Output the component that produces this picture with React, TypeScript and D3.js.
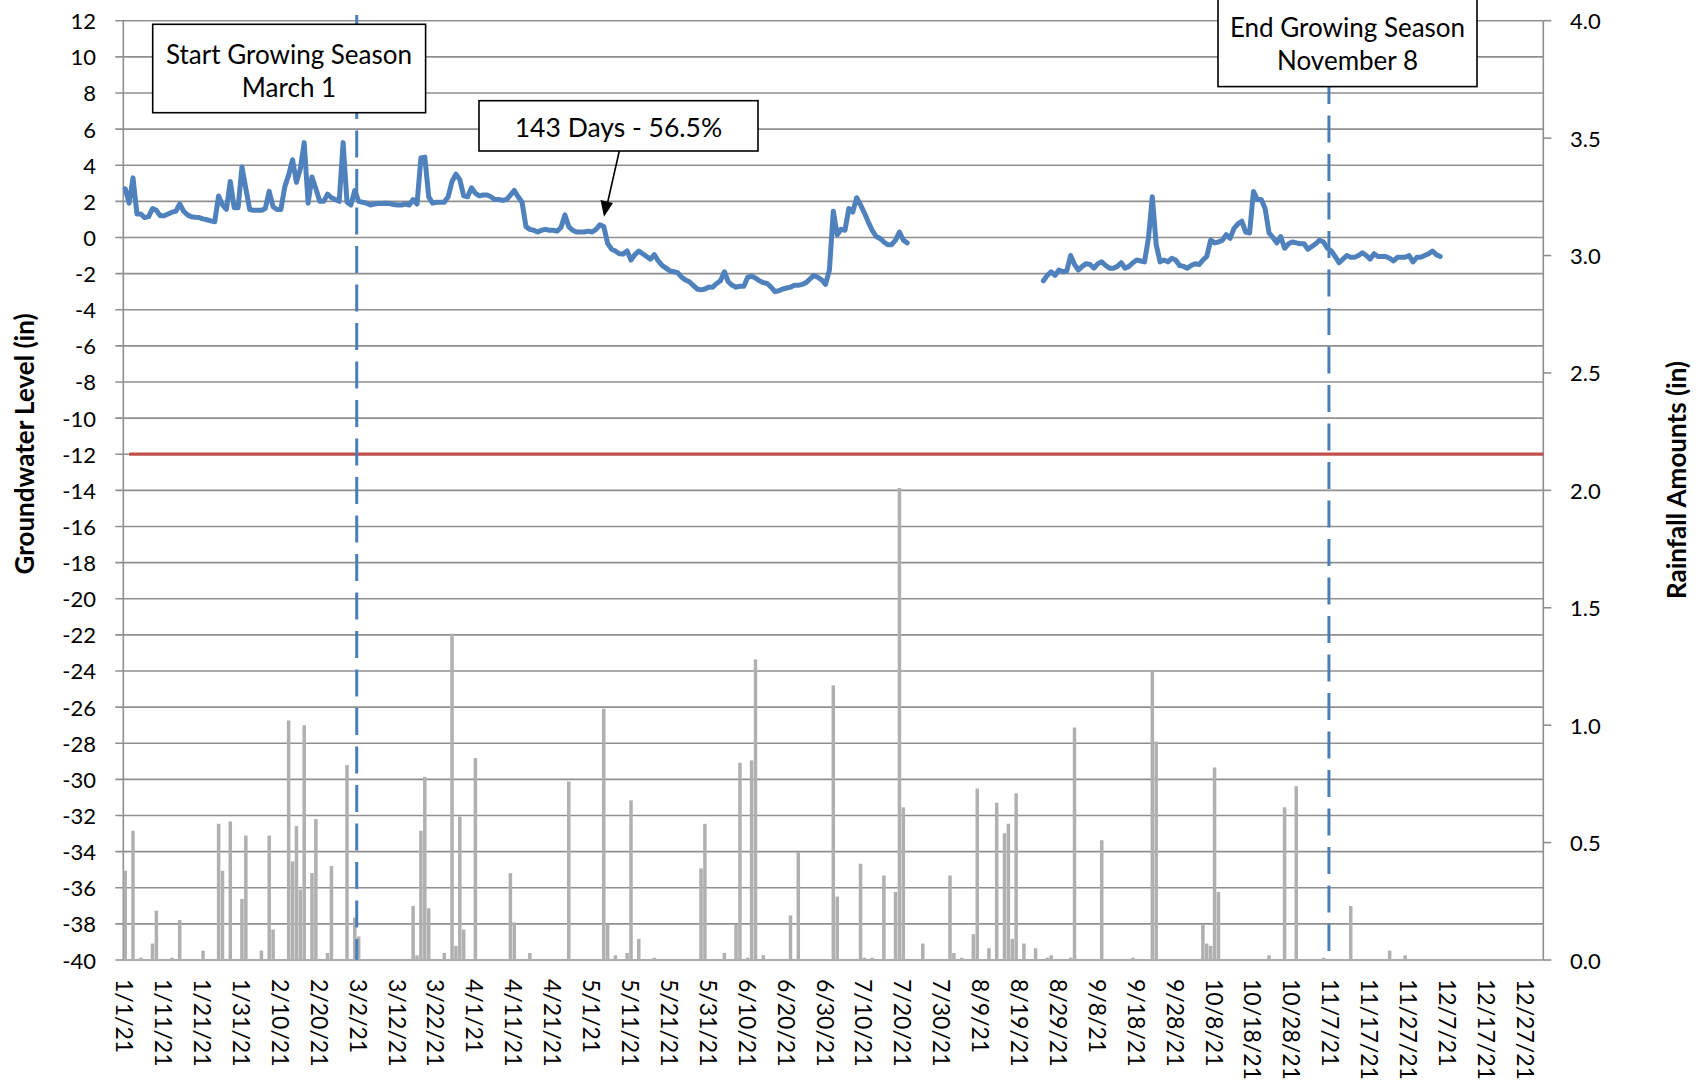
import React, { useEffect } from "react";
import * as d3 from "d3";

// ---------------- DATA ----------------
const yearStart = new Date(2021, 0, 1);
const yearEnd = new Date(2022, 0, 1);
const days: Date[] = d3.timeDay.range(yearStart, yearEnd); // 365 daily categories

// Groundwater level (in), index = day of year (0 = 1/1/21); null = no reading
const groundwaterA: number[] = [
  2.7, 1.9, 3.3, 1.3, 1.3, 1.1, 1.15, 1.6, 1.5, 1.2,
  1.2, 1.3, 1.4, 1.45, 1.85, 1.45, 1.25, 1.15, 1.12, 1.1,
  1.03, 0.98, 0.92, 0.87, 2.3, 1.8, 1.55, 3.1, 1.65, 1.65,
  3.9, 2.7, 1.55, 1.5, 1.5, 1.5, 1.6, 2.55, 1.7, 1.55,
  1.55, 2.8, 3.45, 4.3, 3.05, 3.8, 5.25, 1.9, 3.35, 2.7,
  2.0, 2.0, 2.4, 2.2, 2.1, 2.0, 5.25, 1.95, 1.8, 2.6,
  2.0, 1.95, 1.9, 1.8, 1.85, 1.88, 1.88, 1.9, 1.88, 1.82,
  1.8, 1.8, 1.85, 1.8, 2.1, 1.85, 4.4, 4.45, 2.25, 1.9,
  1.95, 1.95, 1.95, 2.25, 3.1, 3.5, 3.2, 2.3, 2.25, 2.75,
  2.45, 2.3, 2.35, 2.35, 2.25, 2.1, 2.1, 2.05, 2.1, 2.35,
  2.6, 2.25, 1.95, 0.6, 0.45, 0.4, 0.3, 0.4, 0.45, 0.4,
  0.4, 0.35, 0.55, 1.25, 0.6, 0.4, 0.3, 0.3, 0.3, 0.35,
  0.3, 0.45, 0.7, 0.6, -0.33, -0.65, -0.75, -0.9, -0.92, -0.75,
  -1.25, -0.95, -0.75, -0.9, -1.05, -1.2, -0.95, -1.3, -1.55, -1.7,
  -1.85, -1.9, -1.95, -2.2, -2.35, -2.45, -2.65, -2.85, -2.9, -2.85,
  -2.75, -2.75, -2.55, -2.4, -1.9, -2.45, -2.65, -2.75, -2.7, -2.7,
  -2.2, -2.15, -2.25, -2.4, -2.5, -2.55, -2.75, -3.0, -2.95, -2.85,
  -2.8, -2.75, -2.65, -2.65, -2.6, -2.5, -2.3, -2.1, -2.2, -2.35,
  -2.6, -1.8, 1.45, 0.15, 0.45, 0.4, 1.6, 1.4, 2.2, 1.8,
  1.35, 0.85, 0.4, 0.05, -0.05, -0.25, -0.4, -0.4, -0.15, 0.3,
  -0.15, -0.3,
];
const gapStartDay = 202; // first day without reading
const groundwaterB: number[] = [
  // from day 236 (8/25/21)
  -2.4, -2.1, -1.9, -2.1, -1.8, -1.9, -1.85, -1.0, -1.5, -1.8,
  -1.6, -1.45, -1.5, -1.7, -1.45, -1.35, -1.55, -1.7, -1.7, -1.6,
  -1.4, -1.7, -1.6, -1.4, -1.25, -1.3, -1.35, -0.05, 2.25, -0.4,
  -1.35, -1.25, -1.35, -1.15, -1.25, -1.55, -1.6, -1.7, -1.55, -1.45,
  -1.5, -1.25, -1.05, -0.15, -0.3, -0.25, -0.15, 0.15, -0.05, 0.5,
  0.75, 0.9, 0.3, 0.25, 2.55, 2.1, 2.1, 1.6, 0.25, 0.0,
  -0.3, 0.05, -0.6, -0.35, -0.25, -0.3, -0.35, -0.35, -0.65, -0.5,
  -0.35, -0.15, -0.25, -0.6, -0.75, -1.05, -1.4, -1.2, -1.0, -1.1,
  -1.1, -1.0, -0.85, -1.0, -1.2, -0.9, -1.05, -1.05, -1.05, -1.15,
  -1.3, -1.1, -1.1, -1.1, -1.0, -1.35, -1.1, -1.1, -1.0, -0.9,
  -0.75, -0.95, -1.05,
];
const resumeDay = 236;

// Daily rainfall (in): day of year index and amount
const rainDays: number[] = [
  0, 2, 4, 7, 8, 12, 14, 20, 24, 25, 27, 30, 31, 35, 37, 38, 42, 43, 44, 45,
  46, 48, 49, 52, 53, 57, 59, 60, 74, 75, 76, 77, 78, 82, 84, 85, 86, 87, 90, 99,
  100, 104, 114, 123, 124, 126, 129, 130, 132, 136, 148, 149, 154, 157, 158, 160, 161, 162, 164, 171,
  173, 182, 183, 189, 190, 192, 195, 198, 199, 200, 205, 212, 213, 215, 218, 219, 222, 224, 226, 227,
  228, 229, 231, 234, 237, 238, 243, 244, 251, 259, 264, 265, 277, 278, 279, 280, 281, 294, 298, 301,
  308, 315, 325, 329,
];
const rainInches: number[] = [
  0.38, 0.55, 0.01, 0.07, 0.21, 0.01, 0.17, 0.04, 0.58, 0.38, 0.59, 0.26, 0.53, 0.04, 0.53, 0.13, 1.02, 0.42, 0.57, 0.30,
  1.0, 0.37, 0.60, 0.03, 0.40, 0.83, 0.18, 0.10, 0.23, 0.02, 0.55, 0.78, 0.22, 0.03, 1.39, 0.06, 0.61, 0.13, 0.86, 0.37,
  0.16, 0.03, 0.76, 1.07, 0.15, 0.02, 0.03, 0.68, 0.09, 0.01, 0.39, 0.58, 0.03, 0.15, 0.84, 0.01, 0.85, 1.28, 0.02, 0.19,
  0.46, 1.17, 0.27, 0.41, 0.01, 0.01, 0.36, 0.29, 2.01, 0.65, 0.07, 0.36, 0.03, 0.01, 0.11, 0.73, 0.05, 0.67, 0.54, 0.58,
  0.09, 0.71, 0.07, 0.05, 0.01, 0.02, 0.01, 0.99, 0.51, 0.01, 1.23, 0.93, 0.15, 0.07, 0.06, 0.82, 0.29, 0.02, 0.65, 0.74,
  0.01, 0.23, 0.04, 0.02,
];

const leftTicks: number[] = d3.range(-40, 13, 2);
const rightTicks: number[] = [0, 0.5, 1.0, 1.5, 2.0, 2.5, 3.0, 3.5, 4.0];
const labelEvery = 10;
const thresholdLevel = -12;
const thresholdFromDay = 1;

const leftTitle = "Groundwater Level (in)";
const rightTitle = "Rainfall Amounts (in)";
const startNote = ["Start Growing Season", "March 1"];
const endNote = ["End Growing Season", "November 8"];
const daysNote = "143 Days - 56.5%";
const startSeasonDay = 60.0; // position of season-start marker (day-of-year units)
const endSeasonDay = 309.9;

// ---------------- LAYOUT ----------------
const W = 1698;
const H = 1086;
const L = 123.3;
const R = 1543.3;
const T = 20.7;
const B = 960;
const FONT = "Lato, 'Open Sans', 'DejaVu Sans', sans-serif";
const GRID = "#8f8f8f";

export default function App() {
  useEffect(() => {
    document.body.style.margin = "0";
  }, []);

  const x = d3
    .scaleBand<number>()
    .domain(d3.range(days.length))
    .range([L, R])
    .paddingInner(0.1)
    .paddingOuter(0.05);
  const xc = (i: number) => (x(i) as number) + x.bandwidth() / 2;
  const xLin = d3.scaleLinear().domain([0, days.length]).range([L, R]);
  const yL = d3.scaleLinear().domain([-40, 12]).range([B, T]);
  const yR = d3.scaleLinear().domain([0, 4]).range([B, T]);

  const gw: { i: number; v: number | null }[] = [];
  groundwaterA.forEach((v, i) => gw.push({ i, v }));
  for (let i = gapStartDay; i < resumeDay; i++) gw.push({ i, v: null });
  groundwaterB.forEach((v, k) => gw.push({ i: resumeDay + k, v }));

  const line = d3
    .line<{ i: number; v: number | null }>()
    .defined((d) => d.v !== null)
    .x((d) => xc(d.i))
    .y((d) => yL(d.v as number));

  const fmt = d3.timeFormat("%-m/%-d/%y");
  const labelIdx = d3.range(0, days.length, labelEvery);

  const sx = xLin(startSeasonDay);
  const ex = xLin(endSeasonDay);

  return (
    <svg
      width={W}
      height={H}
      style={{ position: "absolute", left: 0, top: 0, background: "#fff" }}
      fontFamily={FONT}
    >
      <rect x={0} y={0} width={W} height={H} fill="#fff" />
      {/* gridlines */}
      {leftTicks.map((t) => (
        <line key={"g" + t} x1={L - 8} x2={R} y1={yL(t)} y2={yL(t)} stroke={GRID} strokeWidth={1.6} />
      ))}
      {rightTicks.map((t) => (
        <line key={"rt" + t} x1={R} x2={R + 8} y1={yR(t)} y2={yR(t)} stroke={GRID} strokeWidth={1.6} />
      ))}
      <line x1={L} x2={L} y1={T} y2={B} stroke={GRID} strokeWidth={1.6} />
      <line x1={R} x2={R} y1={T} y2={B} stroke={GRID} strokeWidth={1.6} />

      {/* rainfall bars */}
      {rainDays.map((d, k) => (
        <rect
          key={"b" + d}
          x={x(d)}
          width={x.bandwidth()}
          y={yR(rainInches[k])}
          height={B - yR(rainInches[k])}
          fill="#b0b0b0"
        />
      ))}

      {/* threshold line */}
      <line
        x1={xc(thresholdFromDay)}
        x2={R}
        y1={yL(thresholdLevel)}
        y2={yL(thresholdLevel)}
        stroke="#c0504d"
        strokeWidth={3.2}
      />

      {/* season markers */}
      <line x1={sx} x2={sx} y1={15} y2={B} stroke="#4a7ebb" strokeWidth={3} strokeDasharray="27 11.5" />
      <line x1={ex} x2={ex} y1={0} y2={B} stroke="#4a7ebb" strokeWidth={3} strokeDasharray="27 11.5" />

      {/* groundwater line */}
      <path d={line(gw) || ""} fill="none" stroke="#4f81bd" strokeWidth={5} strokeLinejoin="round" strokeLinecap="round" />

      {/* axis labels */}
      {leftTicks.map((t) => (
        <text key={"lt" + t} x={96} y={yL(t)} textAnchor="end" dominantBaseline="central" fontSize={22} fill="#000">
          {t}
        </text>
      ))}
      {rightTicks.map((t) => (
        <text key={"rl" + t} x={1570} y={yR(t)} textAnchor="start" dominantBaseline="central" fontSize={22} fill="#000">
          {t.toFixed(1)}
        </text>
      ))}
      {labelIdx.map((i) => (
        <text
          key={"xl" + i}
          transform={`translate(${xc(i)},979) rotate(90)`}
          textAnchor="start"
          dominantBaseline="central"
          fontSize={23}
          fill="#000"
        >
          {fmt(days[i])}
        </text>
      ))}
      <text
        transform={`translate(24,444) rotate(-90)`}
        textAnchor="middle"
        dominantBaseline="central"
        fontSize={26}
        fontWeight="bold"
      >
        {leftTitle}
      </text>
      <text
        transform={`translate(1676,480) rotate(-90)`}
        textAnchor="middle"
        dominantBaseline="central"
        fontSize={26}
        fontWeight="bold"
      >
        {rightTitle}
      </text>

      {/* annotation boxes */}
      <rect x={152.7} y={24.3} width={272.9} height={88.4} fill="#fff" stroke="#000" strokeWidth={1.6} />
      <text x={289} y={53.5} textAnchor="middle" dominantBaseline="central" fontSize={26}>
        {startNote[0]}
      </text>
      <text x={289} y={87} textAnchor="middle" dominantBaseline="central" fontSize={26}>
        {startNote[1]}
      </text>

      <rect x={1218} y={-2} width={259} height={88.6} fill="#fff" stroke="#000" strokeWidth={1.6} />
      <text x={1347.5} y={27} textAnchor="middle" dominantBaseline="central" fontSize={26}>
        {endNote[0]}
      </text>
      <text x={1347.5} y={59.6} textAnchor="middle" dominantBaseline="central" fontSize={26}>
        {endNote[1]}
      </text>

      <rect x={479} y={100.7} width={279} height={50.3} fill="#fff" stroke="#000" strokeWidth={1.6} />
      <text x={618.5} y={127} textAnchor="middle" dominantBaseline="central" fontSize={26.5}>
        {daysNote}
      </text>
      <line x1={619.3} y1={151} x2={607.5} y2={203} stroke="#000" strokeWidth={1.6} />
      <polygon points="604,216.7 600.5,200 613,203" fill="#000" />
    </svg>
  );
}
